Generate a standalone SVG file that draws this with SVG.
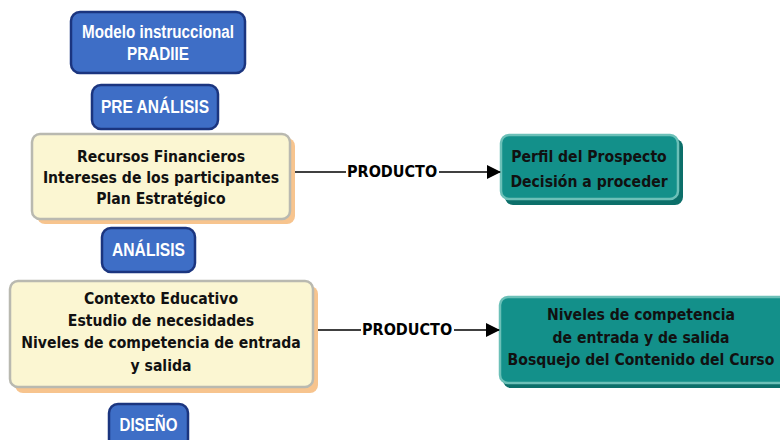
<svg xmlns="http://www.w3.org/2000/svg" width="780" height="440" viewBox="0 0 780 440">
<defs>
<marker id="arr" markerWidth="14" markerHeight="14" refX="13" refY="7" orient="auto" markerUnits="userSpaceOnUse">
<path d="M0,0 L14,7 L0,14 Z" fill="#000"/>
</marker>
<style>
.blue{fill:#3e6ec6;stroke:#1b357f;stroke-width:2.5}
.bt{font-family:"Liberation Sans",Arial,sans-serif;font-weight:bold;font-size:17.5px;fill:#fff;text-anchor:middle}
.ybox{fill:#fbf6d2;stroke:#b9b9b0;stroke-width:2.5}
.yshadow{fill:#f7c48e}
.tbox{fill:#13908a;stroke:#6cc0b8;stroke-width:2.5}
.tshadow{fill:#0c6f6a}
.dt{font-family:"DejaVu Sans Condensed","DejaVu Sans",sans-serif;font-weight:bold;font-size:15.6px;fill:#111;text-anchor:middle}
.pt{font-family:"DejaVu Sans Condensed","DejaVu Sans",sans-serif;font-weight:bold;font-size:16px;fill:#000}
.ln{stroke:#000;stroke-width:1.3;fill:none}
</style>
</defs>
<rect width="780" height="440" fill="#fff"/>
<g id="modelo">
<rect class="blue" x="71" y="12" width="174" height="61" rx="9"/>
<text class="bt" x="158" y="38" textLength="152" lengthAdjust="spacingAndGlyphs">Modelo instruccional</text>
<text class="bt" x="158" y="60" textLength="62" lengthAdjust="spacingAndGlyphs">PRADIIE</text>
</g>
<g id="preanalisis">
<rect class="blue" x="92" y="85" width="126" height="44" rx="9"/>
<text class="bt" x="155" y="113" textLength="108" lengthAdjust="spacingAndGlyphs">PRE ANÁLISIS</text>
</g>
<g id="recursos">
<rect class="yshadow" x="37" y="138" width="258" height="86" rx="8"/>
<rect class="ybox" x="32" y="134" width="258" height="85" rx="8"/>
<text class="dt" x="161" y="162">Recursos Financieros</text>
<text class="dt" x="161" y="183">Intereses de los participantes</text>
<text class="dt" x="161" y="204">Plan Estratégico</text>
</g>
<g id="perfil">
<rect class="tshadow" x="505" y="139" width="178" height="66" rx="8"/>
<rect class="tbox" x="501" y="135" width="177" height="64" rx="8"/>
<text class="dt" x="589" y="162">Perfil del Prospecto</text>
<text class="dt" x="589" y="187">Decisión a proceder</text>
</g>
<g id="analisis">
<rect class="blue" x="102" y="228" width="93" height="44" rx="9"/>
<text class="bt" x="148.5" y="256" textLength="73" lengthAdjust="spacingAndGlyphs">ANÁLISIS</text>
</g>
<g id="contexto">
<rect class="yshadow" x="15" y="286" width="303" height="107" rx="8"/>
<rect class="ybox" x="10" y="281" width="303" height="106" rx="8"/>
<text class="dt" x="161" y="304">Contexto Educativo</text>
<text class="dt" x="161" y="326">Estudio de necesidades</text>
<text class="dt" x="161" y="348">Niveles de competencia de entrada</text>
<text class="dt" x="161" y="371">y salida</text>
</g>
<g id="niveles">
<rect class="tshadow" x="503" y="302" width="290" height="86" rx="8"/>
<rect class="tbox" x="500" y="297" width="292" height="86" rx="8"/>
<text class="dt" x="641" y="320">Niveles de competencia</text>
<text class="dt" x="641" y="343">de entrada y de salida</text>
<text class="dt" x="641" y="365">Bosquejo del Contenido del Curso</text>
</g>
<g id="diseno">
<rect class="blue" x="109" y="404" width="79" height="44" rx="9"/>
<text class="bt" x="148.5" y="431" textLength="58" lengthAdjust="spacingAndGlyphs">DISEÑO</text>
</g>
<g id="connectors">
<line class="ln" x1="295" y1="172" x2="346" y2="172"/>
<text class="pt" x="347" y="177">PRODUCTO</text>
<line class="ln" x1="439" y1="172" x2="500" y2="172" marker-end="url(#arr)"/>
<line class="ln" x1="318" y1="330" x2="361" y2="330"/>
<text class="pt" x="362" y="335">PRODUCTO</text>
<line class="ln" x1="454" y1="330" x2="499" y2="330" marker-end="url(#arr)"/>
</g>
</svg>
